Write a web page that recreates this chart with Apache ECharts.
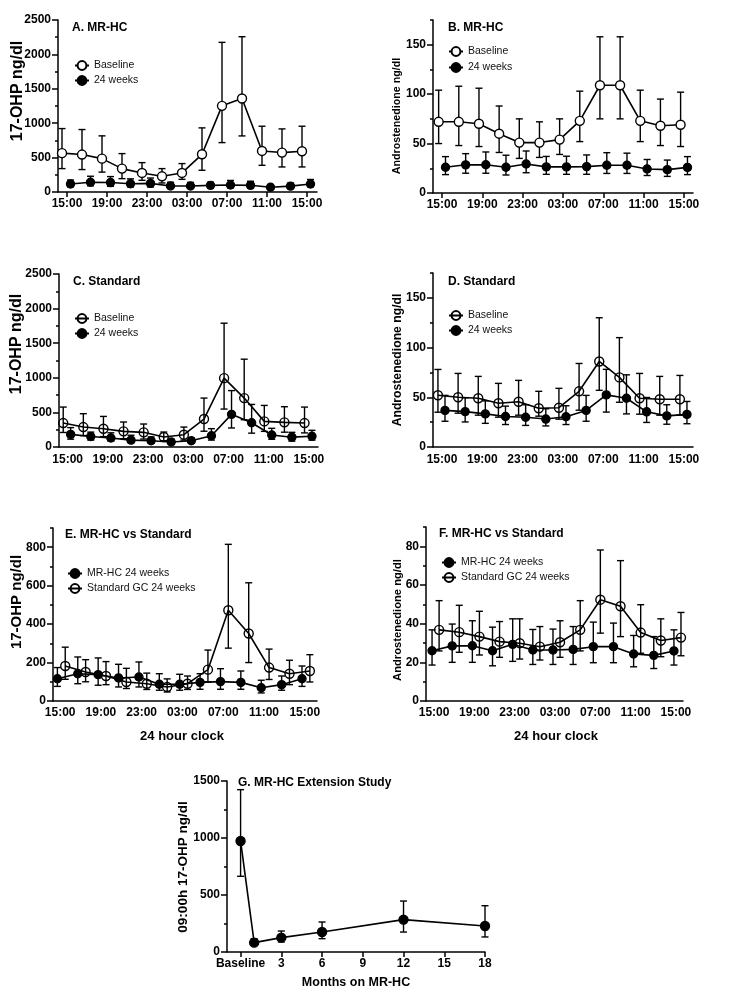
<!DOCTYPE html>
<html><head><meta charset="utf-8">
<script src="https://cdn.jsdelivr.net/npm/echarts@6/dist/echarts.min.js"></script>
<style>html,body{margin:0;padding:0;background:#fff}#c{width:730px;height:999px}</style>
</head><body><div id="c"></div>
<script>
// ---------- data ----------
const hours = [0, 2, 4, 6, 8, 10, 12, 14, 16, 18, 20, 22, 24]; // hours after 15:00
const hourTicks = [0, 4, 8, 12, 16, 20, 24];
const monthTicks = [0, 3, 6, 9, 12, 15, 18];

const ohpTicks = [0, 500, 1000, 1500, 2000, 2500];
const andTicks = [0, 50, 100, 150];
const ohpCompTicks = [0, 200, 400, 600, 800];
const andCompTicks = [0, 20, 40, 60, 80];
const extTicks = [0, 500, 1000, 1500];

// 17-OHP, MR-HC, baseline
const ohpMrBaseMean  = [565, 544, 485, 340, 277, 228, 277, 548, 1252, 1359, 597, 573, 592];
const ohpMrBaseUpper = [922, 908, 816, 558, 427, 340, 413, 932, 2175, 2257, 956, 917, 956];
const ohpMrBaseLower = [340, 326, 289, 194, 170, 131, 184, 316, 718, 815, 388, 364, 364];
// 17-OHP, MR-HC, 24 weeks
const ohpMr24Mean  = [116, 142, 137, 120, 125, 87, 87, 97, 101, 97, 69, 85, 116];
const ohpMr24Upper = [174, 229, 224, 191, 203, 142, 139, 142, 168, 156, 108, 130, 182];
const ohpMr24Lower = [76, 90, 82, 73, 73, 56, 56, 61, 61, 61, 42, 56, 76];
// 17-OHP, Standard, baseline
const ohpStBaseMean  = [346, 288, 264, 226, 212, 144, 178, 404, 995, 707, 370, 356, 346];
const ohpStBaseUpper = [577, 481, 442, 361, 332, 216, 288, 707, 1789, 1269, 601, 582, 577];
const ohpStBaseLower = [210, 165, 150, 120, 115, 90, 100, 228, 548, 394, 226, 214, 204];
// 17-OHP, Standard, 24 weeks
const ohpSt24Mean  = [182, 151, 130, 99, 90, 73, 90, 163, 472, 351, 174, 142, 156];
const ohpSt24Upper = [280, 215, 205, 170, 145, 115, 130, 265, 815, 615, 270, 212, 241];
const ohpSt24Lower = [113, 100, 85, 65, 60, 47, 60, 100, 275, 200, 112, 85, 99];
// Androstenedione, MR-HC, baseline
const andMrBaseMean  = [72, 72, 70, 60, 51, 51, 54, 73, 109, 109, 73, 68, 69];
const andMrBaseUpper = [104, 108, 106, 88, 75, 72, 75, 103, 158, 158, 104, 95, 102];
const andMrBaseLower = [50, 48, 47, 41, 35, 36, 39, 52, 75, 75, 52, 48, 47];
// Androstenedione, MR-HC, 24 weeks
const andMr24Mean  = [26, 28.5, 28.6, 26, 29.3, 26.4, 26.4, 26.7, 28.1, 28.1, 24.3, 23.6, 25.9];
const andMr24Upper = [36.8, 39.8, 41.5, 38.2, 42.5, 37, 37.2, 38.5, 40.8, 40.3, 33.9, 33.3, 36.8];
const andMr24Lower = [18.6, 20, 20, 18.2, 20.5, 18.9, 18.9, 18.9, 19.8, 19.8, 17.7, 16.8, 18.6];
// Androstenedione, Standard, baseline
const andStBaseMean  = [52, 50, 49, 44, 45.5, 39, 39.5, 56, 86, 70, 49, 48, 48];
const andStBaseUpper = [78, 74, 71, 64, 67, 56, 59, 84, 130, 110, 74, 71, 72];
const andStBaseLower = [35, 34, 32, 30, 32, 31, 28, 37, 57, 45, 33, 32, 32];
// Androstenedione, Standard, 24 weeks
const andSt24Mean  = [36.8, 35.6, 33.3, 30.7, 29.9, 28.1, 30.4, 36.8, 52.4, 49, 35.4, 31.3, 32.8];
const andSt24Upper = [51.9, 49.5, 46.4, 41.1, 42.5, 38.5, 41.5, 51.9, 78.1, 72.6, 49.8, 42.5, 45.8];
const andSt24Lower = [25.9, 25.2, 23.8, 22.6, 21.7, 21.2, 22.6, 25.9, 35.1, 33.3, 24.7, 22.9, 23.4];
// Extension study
const extMonths = [0, 1, 3, 6, 12, 18];
const extMean  = [974, 82, 126, 175, 284, 228];
const extUpper = [1424, 117, 184, 263, 447, 406];
const extLower = [664, 58, 88, 117, 175, 132];

// ---------- chart ----------
const FONT = '"Liberation Sans", Arial, Helvetica, sans-serif';
const BLACK = '#000';
const AX = {color: BLACK, width: 1.5};
function hourLabel(v) { const h = (15 + v) % 24; return (h < 10 ? '0' : '') + h + ':00'; }
function monthLabel(v) { return v === 0 ? 'Baseline' : String(v); }
function plainLabel(v) { return String(v); }

function errRender(params, api) {
  const x = api.value(0), lo = api.value(1), hi = api.value(2);
  const p1 = api.coord([x, hi]), p2 = api.coord([x, lo]);
  const w = 3.5, st = {stroke: BLACK, lineWidth: 1.4};
  return {type: 'group', children: [
    {type: 'line', shape: {x1: p1[0], y1: p1[1], x2: p2[0], y2: p2[1]}, style: st},
    {type: 'line', shape: {x1: p1[0] - w, y1: p1[1], x2: p1[0] + w, y2: p1[1]}, style: st},
    {type: 'line', shape: {x1: p2[0] - w, y1: p2[1], x2: p2[0] + w, y2: p2[1]}, style: st}
  ]};
}

const grids = [], xAxes = [], yAxes = [], series = [], legends = [], graphics = [];

function addPanel(p) {
  const gi = grids.length;
  grids.push(p.grid);
  xAxes.push({
    type: 'value', gridIndex: gi, min: p.xMin, max: p.xMax,
    axisLine: {onZero: false, lineStyle: AX},
    splitLine: {show: false},
    axisTick: {show: p.xTicks, customValues: p.xVals, length: 5, lineStyle: AX},
    axisLabel: {customValues: p.xVals, formatter: p.xFmt, color: BLACK, fontWeight: 'bold',
      fontSize: 12, fontFamily: FONT, margin: p.xMargin}
  });
  const yi = yAxes.length;
  yAxes.push({
    type: 'value', gridIndex: gi, min: 0, max: p.yMax, interval: p.yMinor,
    axisLine: {show: true, onZero: false, lineStyle: AX},
    axisTick: {show: true, length: 3, lineStyle: AX},
    axisLabel: {customValues: p.yVals, formatter: plainLabel, color: BLACK, fontWeight: 'bold', fontSize: 12,
      fontFamily: FONT, margin: 7},
    splitLine: {show: false}
  });
  yAxes.push({
    type: 'value', gridIndex: gi, min: 0, max: p.yMax, interval: p.yMinor, position: 'left',
    axisLine: {show: false, onZero: false},
    axisTick: {show: true, customValues: p.yVals, length: 6, lineStyle: AX},
    axisLabel: {show: false}, splitLine: {show: false}
  });
  p.groups.forEach(function (g) {
    const xs = p.xData;
    series.push({
      type: 'line', name: g.name, xAxisIndex: gi, yAxisIndex: yi,
      data: xs.map(function (h, i) { return [h + g.off, g.mean[i]]; }),
      symbol: 'circle', symbolSize: g.size,
      itemStyle: {color: g.fill, borderColor: BLACK, borderWidth: 1.4},
      lineStyle: {color: BLACK, width: 1.6}, z: 4, silent: true, animation: false
    });
    series.push({
      type: 'custom', name: g.name + '_err', xAxisIndex: gi, yAxisIndex: yi,
      renderItem: errRender, encode: {x: 0, y: [1, 2]},
      data: xs.map(function (h, i) { return [h + g.off, g.lower[i], g.upper[i]]; }),
      z: 3, silent: true, animation: false
    });
  });
  if (p.legend) {
    legends.push(Object.assign({
      orient: 'vertical', padding: 0, itemGap: 4, itemWidth: 14, itemHeight: 11,
      selectedMode: false,
      textStyle: {fontSize: 10.5, color: '#111', fontFamily: FONT},
      formatter: function (n) { return n.split('#')[0]; },
      data: p.groups.map(function (g) { return g.name; })
    }, p.legend));
  }
  graphics.push({type: 'text', x: p.title[1], y: p.title[2],
    style: {text: p.title[0], font: 'bold 12px ' + FONT, fill: BLACK, align: 'left', verticalAlign: 'middle'}});
  graphics.push({type: 'text', x: p.yName[1], y: p.yName[2], rotation: Math.PI / 2,
    style: {text: p.yName[0], font: 'bold ' + p.yName[3] + 'px ' + FONT, fill: BLACK, align: 'center', verticalAlign: 'middle'}});
  if (p.xName) {
    graphics.push({type: 'text', x: p.xName[1], y: p.xName[2],
      style: {text: p.xName[0], font: 'bold ' + p.xName[3] + 'px ' + FONT, fill: BLACK, align: 'center', verticalAlign: 'middle'}});
  }
}

const WHITE = '#fff', NONE = 'rgba(0,0,0,0)';

addPanel({
  grid: {left: 58, top: 20, width: 259, height: 172}, xMin: -0.9, xMax: 25, xTicks: true,
  xVals: hourTicks, xFmt: hourLabel, xMargin: 6, xData: hours,
  yMax: 2500, yMinor: 250, yVals: ohpTicks,
  groups: [
    {name: 'Baseline#A', mean: ohpMrBaseMean, upper: ohpMrBaseUpper, lower: ohpMrBaseLower, off: -0.5, fill: WHITE, size: 9},
    {name: '24 weeks#A', mean: ohpMr24Mean, upper: ohpMr24Upper, lower: ohpMr24Lower, off: 0.35, fill: BLACK, size: 8}
  ],
  legend: {left: 74, top: 60},
  title: ['A. MR-HC', 72, 28], yName: ['17-OHP ng/dl', 18, 91, 16]
});
addPanel({
  grid: {left: 433, top: 20, width: 260, height: 173}, xMin: -0.89, xMax: 24.9, xTicks: true,
  xVals: hourTicks, xFmt: hourLabel, xMargin: 6, xData: hours,
  yMax: 175, yMinor: 25, yVals: andTicks,
  groups: [
    {name: 'Baseline#B', mean: andMrBaseMean, upper: andMrBaseUpper, lower: andMrBaseLower, off: -0.33, fill: WHITE, size: 9},
    {name: '24 weeks#B', mean: andMr24Mean, upper: andMr24Upper, lower: andMr24Lower, off: 0.35, fill: BLACK, size: 8}
  ],
  legend: {left: 448, top: 46, itemGap: 5},
  title: ['B. MR-HC', 448, 28], yName: ['Androstenedione ng/dl', 397.5, 116, 10.7]
});
addPanel({
  grid: {left: 59, top: 274, width: 259, height: 173}, xMin: -0.86, xMax: 24.9, xTicks: false,
  xVals: hourTicks, xFmt: hourLabel, xMargin: 7, xData: hours,
  yMax: 2500, yMinor: 250, yVals: ohpTicks,
  groups: [
    {name: 'Baseline#C', mean: ohpStBaseMean, upper: ohpStBaseUpper, lower: ohpStBaseLower, off: -0.44, fill: NONE, size: 9},
    {name: '24 weeks#C', mean: ohpSt24Mean, upper: ohpSt24Upper, lower: ohpSt24Lower, off: 0.3, fill: BLACK, size: 8}
  ],
  legend: {left: 74, top: 313},
  title: ['C. Standard', 73, 282], yName: ['17-OHP ng/dl', 17, 344, 16]
});
addPanel({
  grid: {left: 433, top: 273, width: 260, height: 174}, xMin: -0.89, xMax: 24.9, xTicks: false,
  xVals: hourTicks, xFmt: hourLabel, xMargin: 7, xData: hours,
  yMax: 175, yMinor: 25, yVals: andTicks,
  groups: [
    {name: 'Baseline#D', mean: andStBaseMean, upper: andStBaseUpper, lower: andStBaseLower, off: -0.4, fill: NONE, size: 9},
    {name: '24 weeks#D', mean: andSt24Mean, upper: andSt24Upper, lower: andSt24Lower, off: 0.3, fill: BLACK, size: 8}
  ],
  legend: {left: 448, top: 310},
  title: ['D. Standard', 448, 282], yName: ['Androstenedione ng/dl', 397.5, 360, 12.2]
});
addPanel({
  grid: {left: 53, top: 528, width: 264, height: 173}, xMin: -0.7, xMax: 25.2, xTicks: false,
  xVals: hourTicks, xFmt: hourLabel, xMargin: 6, xData: hours,
  yMax: 900, yMinor: 100, yVals: ohpCompTicks,
  groups: [
    {name: 'MR-HC 24 weeks#E', mean: ohpMr24Mean, upper: ohpMr24Upper, lower: ohpMr24Lower, off: -0.27, fill: BLACK, size: 8},
    {name: 'Standard GC 24 weeks#E', mean: ohpSt24Mean, upper: ohpSt24Upper, lower: ohpSt24Lower, off: 0.5, fill: NONE, size: 9}
  ],
  legend: {left: 67, top: 568},
  title: ['E. MR-HC vs Standard', 65, 535], yName: ['17-OHP ng/dl', 17, 602, 15],
  xName: ['24 hour clock', 182, 736, 13]
});
addPanel({
  grid: {left: 426, top: 527, width: 257, height: 174}, xMin: -0.8, xMax: 24.7, xTicks: false,
  xVals: hourTicks, xFmt: hourLabel, xMargin: 6, xData: hours,
  yMax: 90, yMinor: 10, yVals: andCompTicks,
  groups: [
    {name: 'MR-HC 24 weeks#F', mean: andMr24Mean, upper: andMr24Upper, lower: andMr24Lower, off: -0.2, fill: BLACK, size: 8},
    {name: 'Standard GC 24 weeks#F', mean: andSt24Mean, upper: andSt24Upper, lower: andSt24Lower, off: 0.5, fill: NONE, size: 9}
  ],
  legend: {left: 441, top: 557},
  title: ['F. MR-HC vs Standard', 439, 534], yName: ['Androstenedione ng/dl', 397.5, 620, 11.2],
  xName: ['24 hour clock', 556, 736, 13]
});
addPanel({
  grid: {left: 227, top: 781, width: 258, height: 171}, xMin: -1, xMax: 18, xTicks: true,
  xVals: monthTicks, xFmt: monthLabel, xMargin: 6, xData: extMonths,
  yMax: 1500, yMinor: 250, yVals: extTicks,
  groups: [
    {name: 'Extension', mean: extMean, upper: extUpper, lower: extLower, off: 0, fill: BLACK, size: 9}
  ],
  legend: null,
  title: ['G. MR-HC Extension Study', 238, 783], yName: ['09:00h 17-OHP ng/dl', 183, 867, 13.5],
  xName: ['Months on MR-HC', 356, 983, 12.5]
});

const chart = echarts.init(document.getElementById('c'), null, {renderer: 'canvas'});
chart.setOption({
  backgroundColor: '#fff',
  animation: false,
  textStyle: {fontFamily: FONT},
  grid: grids, xAxis: xAxes, yAxis: yAxes, series: series, legend: legends,
  graphic: graphics
});
</script>
</body></html>
